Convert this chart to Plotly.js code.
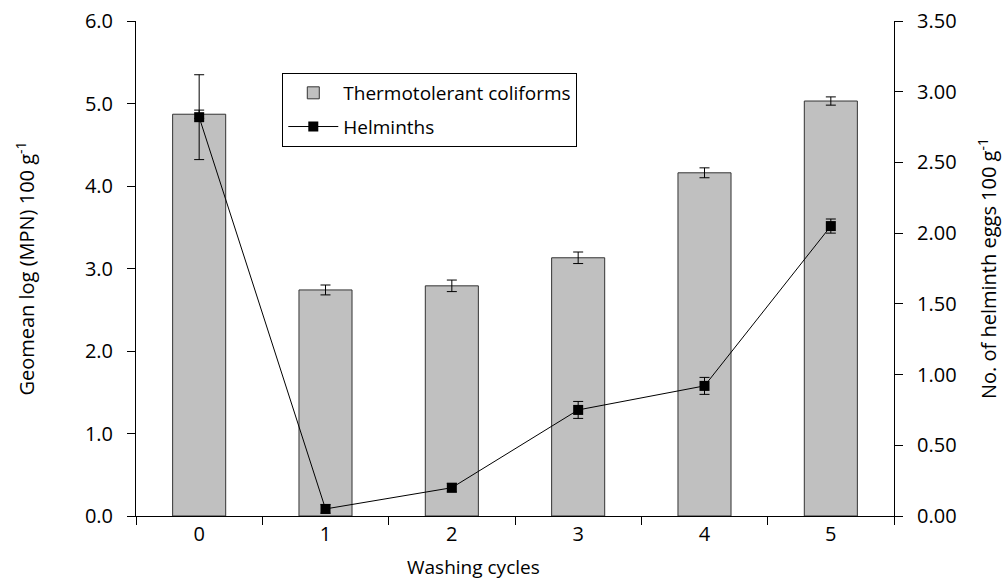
<!DOCTYPE html>
<html>
<head>
<meta charset="utf-8">
<script src="https://cdn.plot.ly/plotly-3.0.1.min.js"></script>
<style>html,body{margin:0;padding:0;background:#fff;}#chart{width:1007px;height:588px;}</style>
</head>
<body>
<div id="chart"></div>
<script>
const cycles = ["0", "1", "2", "3", "4", "5"];
const coliforms = [4.87, 2.74, 2.79, 3.13, 4.16, 5.03];
const coliformsErr = [0.05, 0.06, 0.07, 0.07, 0.06, 0.05];
const helminths = [2.82, 0.05, 0.20, 0.75, 0.92, 2.05];
const helminthsErr = [0.30, 0.03, 0.03, 0.06, 0.06, 0.05];

const FONT = "Open Sans, Noto Sans, sans-serif";

const traces = [
  {
    type: "bar",
    name: "Thermotolerant coliforms",
    legendgroup: "a",
    x: cycles,
    y: coliforms,
    width: 0.42,
    marker: {color: "#c0c0c0", line: {color: "#333333", width: 1}},
    error_y: {type: "data", array: coliformsErr, visible: true, color: "#000", thickness: 1, width: 5},
    yaxis: "y"
  },
  {
    type: "scatter",
    mode: "lines+markers",
    name: "Helminths",
    legendgroup: "b",
    x: cycles,
    y: helminths,
    line: {color: "#000", width: 1},
    marker: {symbol: "square", size: 10, color: "#000"},
    error_y: {type: "data", array: helminthsErr, visible: true, color: "#000", thickness: 1, width: 5},
    yaxis: "y2"
  }
];

const layout = {
  width: 1007,
  height: 588,
  margin: {l: 136, r: 113, t: 21, b: 72},
  paper_bgcolor: "#fff",
  plot_bgcolor: "#fff",
  font: {family: FONT, size: 19, color: "#000"},
  showlegend: true,
  legend: {
    x: 0.193, y: 0.895, xanchor: "left", yanchor: "top",
    bordercolor: "#000", borderwidth: 1, bgcolor: "#fff",
    font: {family: FONT, size: 19, color: "#000"},
    tracegroupgap: 6,
    itemwidth: 50
  },
  xaxis: {
    type: "category",
    range: [-0.5, 5.5],
    tickson: "boundaries",
    ticks: "outside",
    ticklen: 8,
    tickcolor: "#000",
    showline: true,
    linecolor: "#000",
    linewidth: 1,
    showgrid: false,
    zeroline: false,
    tickfont: {family: FONT, size: 20}
  },
  yaxis: {
    range: [0, 6],
    dtick: 1,
    tick0: 0,
    tickformat: ".1f",
    ticks: "outside",
    ticklen: 8,
    tickcolor: "#000",
    ticklabelstandoff: 10,
    showline: true,
    linecolor: "#000",
    linewidth: 1,
    showgrid: false,
    zeroline: false,
    tickfont: {family: FONT, size: 20},
    title: {text: "Geomean log (MPN) 100 g<sup>-1</sup>", font: {family: FONT, size: 20}, standoff: 44}
  },
  yaxis2: {
    overlaying: "y",
    side: "right",
    range: [0, 3.5],
    dtick: 0.5,
    tick0: 0,
    tickformat: ".2f",
    ticks: "outside",
    ticklen: 8,
    tickcolor: "#000",
    ticklabelstandoff: 10,
    showline: true,
    linecolor: "#000",
    linewidth: 1,
    showgrid: false,
    zeroline: false,
    tickfont: {family: FONT, size: 20},
    title: {text: "No. of helminth eggs 100 g<sup>-1</sup>", font: {family: FONT, size: 20}, standoff: 26}
  },
  annotations: [
    {
      text: "Washing cycles",
      xref: "paper", yref: "paper",
      x: 0.445, y: -0.103,
      xanchor: "center", yanchor: "middle",
      showarrow: false,
      font: {family: FONT, size: 19, color: "#000"}
    }
  ]
};

Plotly.newPlot("chart", traces, layout, {displayModeBar: false, staticPlot: true});
</script>
</body>
</html>
